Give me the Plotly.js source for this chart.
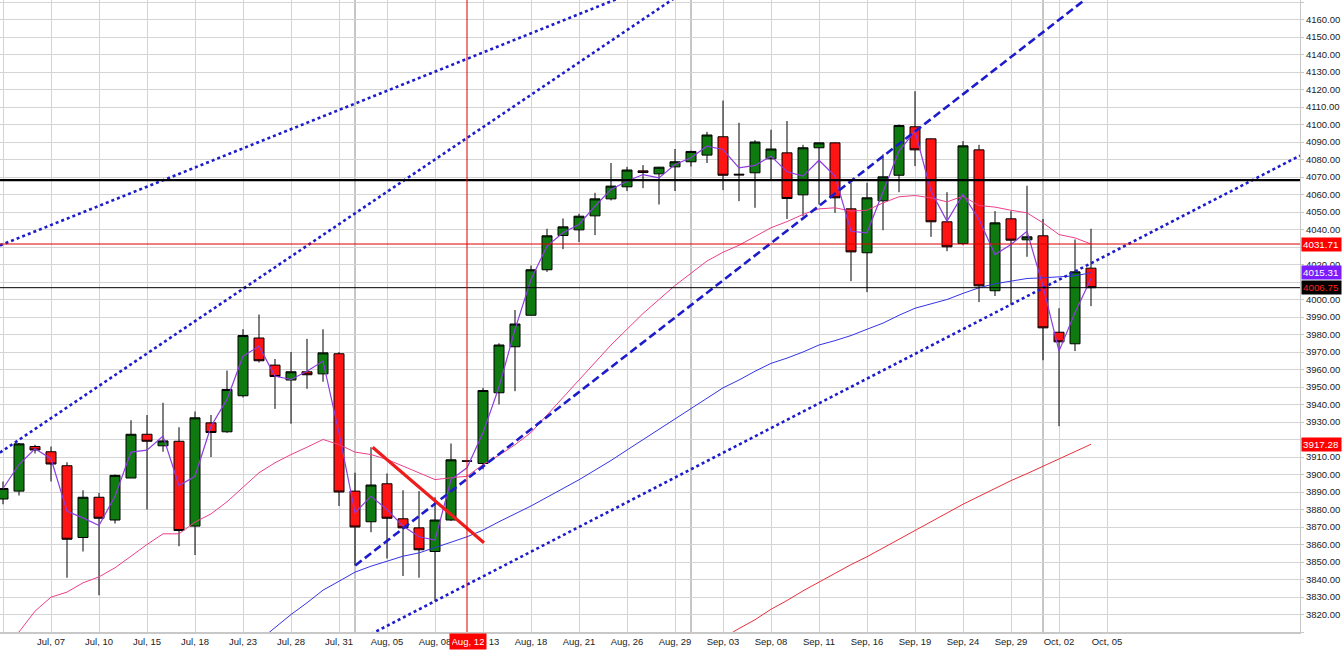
<!DOCTYPE html>
<html><head><meta charset="utf-8">
<script src="https://cdn.plot.ly/plotly-3.0.1.min.js"></script>
<style>html,body{margin:0;padding:0;background:#fff;overflow:hidden}#chart{width:1343px;height:662px}</style>
</head><body><div id="chart"></div>
<script>
// ---- OHLC data (one candle per session, index 0..68) ----
const openP  = [3886,3890.5,3916,3913,3905,3864,3887,3874,3898,3923,3916.4,3919,3870.5,3929.5,3924.4,3945,3978,3962.5,3954,3958.7,3957.5,3969,3890.5,3873,3894.7,3874.7,3869.5,3856,3874,3907.8,3906.3,3946.7,3973,3991,4017,4036.6,4039.8,4047.8,4057.5,4064.4,4073.5,4071.8,4075.8,4078.7,4082.5,4093,4071.6,4072.4,4080.4,4083.8,4059.8,4086.7,4089.5,4051.8,4026.7,4056.4,4071,4098.7,4091.8,4044.4,4032,4085.5,4005,4046.1,4034.1,4036.4,3981.3,3974.7,4017.9];
const highP  = [3896,3918,3917,3916,3907,3891,3889.5,3900,3931,3934,3941,3927,3936,3934,3959.4,3983,3991.4,3966,3970,3977.5,3983,3970,3901,3915.6,3900.6,3891,3890.5,3887,3917.7,3908.3,3949.5,3975,3994,4019.4,4040.4,4046.3,4049,4061,4078,4075.8,4076.8,4075.8,4086,4085,4095.8,4113.7,4101,4091,4097,4102,4088.4,4089.7,4089.7,4066.7,4066.7,4083,4100,4119,4092,4061.3,4090.5,4088.4,4050.5,4050.5,4065,4046,3995,4034.3,4040.4];
const lowP   = [3883,3888,3912,3896,3841,3856,3831,3872,3898,3880,3913,3859,3854,3910,3923.8,3944,3964,3937.5,3929,3949,3953,3882,3848,3867,3852,3842,3841,3827.6,3873.5,3907.2,3903,3940,3947.6,3991,4015.8,4028.8,4032.8,4036.8,4056.6,4062,4063.6,4054.3,4062,4076,4078,4062.5,4056.2,4052.4,4068.6,4046,4047.6,4054.3,4049.5,4010.5,4004.2,4039.6,4061.3,4076.2,4035.8,4027.6,4031,3998.5,4002,3997,4024.4,3965.3,3927.6,3970.5,3996.2];
const closeP = [3892,3917.5,3914,3906,3863,3887,3875,3899.5,3923,3919,3919.2,3868,3932.4,3924,3948.6,3979.4,3965,3956,3958.7,3957,3969.5,3890,3870,3894,3875,3869.5,3857,3874,3908.4,3907.6,3948,3974,3986,4017,4036.4,4041.5,4047.6,4057.5,4064.8,4074,4072.6,4075.6,4078.7,4084.6,4094,4071,4071.2,4090,4086,4057.7,4086.7,4089.5,4058.1,4027.2,4058.1,4070.1,4099.4,4085.5,4044.4,4030.1,4087.8,4007.8,4043.8,4033.9,4035.8,3983.8,3975.8,4015.8,4006.75];

// ---- indicator lines ----
const fastLine = [3892,3905.7,3914.7,3909,3879,3875.2,3870.9,3887.6,3912.8,3913.9,3921.9,3893.7,3899,3927.6,3942.9,3967.6,3973.3,3956.2,3954.3,3959,3964.8,3923.8,3878.1,3887.6,3880,3870.5,3864.4,3862.5,3897.1,3903.8,3923.8,3950,3982.9,4011.4,4030.5,4038.1,4042.9,4053.3,4062.9,4067.6,4071.4,4069.5,4077.1,4081,4087.6,4085.7,4075.2,4076.6,4081.9,4073,4070.5,4079.6,4070.5,4039,4038.1,4061,4084.8,4096.2,4061.9,4044.8,4060,4045.7,4025.7,4031.4,4039,4007.6,3970.5,3992.4,4012];
const maPink = [3803,3810,3821.9,3829.9,3832.8,3838.1,3841.5,3846.7,3853.3,3860,3866.1,3866.1,3872.8,3877.5,3884.4,3892.6,3901,3906.7,3911.4,3915.6,3920,3917.1,3912.8,3911.4,3908.6,3904.8,3901,3897.1,3898.1,3899,3905.7,3911,3917,3924,3934,3944,3954,3964,3974,3983,3992,4000,4008,4015,4022,4027,4031,4036,4041,4044.5,4048.6,4051.8,4052.4,4050.5,4051,4055.2,4058.7,4059.4,4058.1,4055.8,4059,4053.7,4052.8,4051,4049.5,4043.8,4037.1,4035.2,4031.71];
const maBlue = [null,null,null,null,null,null,null,null,null,null,null,null,null,null,null,null,3805,3812.4,3820,3826.7,3833.9,3839,3844.2,3847.6,3850.5,3853.3,3855.2,3858.1,3861.3,3864.4,3868.2,3873,3877.5,3882,3887,3892,3897,3902.5,3908,3914,3920,3926,3932,3938,3944,3949.5,3954,3959,3963.5,3966.5,3970,3974,3976.5,3979.4,3983,3986.5,3991,3995,3997.5,4000,4003.5,4006.7,4009,4010.5,4012,4012.4,4012.8,4013.5,4015.31];
const maRed  = [null,null,null,null,null,null,null,null,null,null,null,null,null,null,null,null,null,null,null,null,null,null,null,null,null,null,null,null,null,null,null,null,null,null,null,null,null,null,null,null,null,null,null,null,null,3806.5,3812,3817,3823,3828,3833.5,3838.5,3843.5,3848.5,3853,3858,3863,3868,3873,3878,3883,3887.5,3892,3896.5,3900.5,3904.7,3908.7,3913,3917.28];

// ---- drawn trend lines (index, price) ----
const chanTopX = [-0.19, 38.5],  chanTopY = [4030.9, 4172.2];
const chanMidX = [-0.19, 42],    chanMidY = [3912.5, 4172.4];
const trendUpX = [22.02, 68],    trendUpY = [3848, 4174];
const chanLowX = [23, 81.06],    chanLowY = [3808.8, 4082.2];
const redDownX = [23.1, 30.06],  redDownY = [3915.6, 3861];

// ---- levels / labels ----
const levelValues = [4068.2, 4031.71, 4006.75];
const monthStarts = [22, 43, 65];
const crossIdx = 29, crossLabel = 'Aug, 12';
const tagValues = [4031.71, 4015.31, 4006.75, 3917.28];
const tagBg = ['#ff0000', '#7a1cff', '#000000', '#ff0000'];
const tagFg = ['#ffffff', '#ffffff', '#ff2020', '#ffffff'];
const hiddenTicks = [3810, 3920, 4010, 4030, 4170];

const tickIdx  = [0,3,6,9,12,15,18,21,24,27,30,33,36,39,42,45,48,51,54,57,60,63,66,69];
const tickText = ['','Jul, 07','Jul, 10','Jul, 15','Jul, 18','Jul, 23','Jul, 28','Jul, 31','Aug, 05','Aug, 08','Aug, 13','Aug, 18','Aug, 21','Aug, 26','Aug, 29','Sep, 03','Sep, 08','Sep, 11','Sep, 16','Sep, 19','Sep, 24','Sep, 29','Oct, 02','Oct, 05'];
const yTickVals = [3810,3820,3830,3840,3850,3860,3870,3880,3890,3900,3910,3920,3930,3940,3950,3960,3970,3980,3990,4000,4010,4020,4030,4040,4050,4060,4070,4080,4090,4100,4110,4120,4130,4140,4150,4160,4170];

const idx = openP.map((_, i) => i);
const FONT = 'Liberation Sans, Arial, sans-serif';

const traces = [
  {type:'candlestick', x: idx, open: openP, high: highP, low: lowP, close: closeP,
   increasing:{line:{color:'#000000', width:1}, fillcolor:'#0f7a0f'},
   decreasing:{line:{color:'#000000', width:1}, fillcolor:'#ff1414'},
   whiskerwidth:0, hoverinfo:'skip', showlegend:false},
  {type:'scatter', mode:'lines', x: idx, y: maRed,  line:{color:'#e8303c', width:1}, hoverinfo:'skip', showlegend:false},
  {type:'scatter', mode:'lines', x: idx, y: maBlue, line:{color:'#3434e6', width:1}, hoverinfo:'skip', showlegend:false},
  {type:'scatter', mode:'lines', x: idx, y: maPink, line:{color:'#ec3f8a', width:1}, hoverinfo:'skip', showlegend:false},
  {type:'scatter', mode:'lines', x: idx, y: fastLine, line:{color:'#8c3ce0', width:1.2}, hoverinfo:'skip', showlegend:false},
  {type:'scatter', mode:'lines', x: chanTopX, y: chanTopY, line:{color:'#1c1ccc', width:2.6, dash:'dot'}, hoverinfo:'skip', showlegend:false},
  {type:'scatter', mode:'lines', x: chanMidX, y: chanMidY, line:{color:'#1c1ccc', width:2.6, dash:'dot'}, hoverinfo:'skip', showlegend:false},
  {type:'scatter', mode:'lines', x: chanLowX, y: chanLowY, line:{color:'#1c1ccc', width:2.6, dash:'dot'}, hoverinfo:'skip', showlegend:false},
  {type:'scatter', mode:'lines', x: trendUpX, y: trendUpY, line:{color:'#1c1ccc', width:2.6, dash:'8px,4px'}, hoverinfo:'skip', showlegend:false},
  {type:'scatter', mode:'lines', x: redDownX, y: redDownY, line:{color:'#ee1c1c', width:3.2}, hoverinfo:'skip', showlegend:false}
];

const shapes = [];
monthStarts.forEach(m => shapes.push({type:'line', xref:'x', yref:'paper', x0:m, x1:m, y0:0, y1:1, layer:'below', line:{color:'#c6c6c6', width:2}}));
shapes.push({type:'line', xref:'paper', yref:'y', x0:0, x1:1, y0:levelValues[0], y1:levelValues[0], layer:'above', line:{color:'#000000', width:2.4}});
shapes.push({type:'line', xref:'paper', yref:'y', x0:0, x1:1, y0:levelValues[1], y1:levelValues[1], layer:'above', line:{color:'#e00000', width:1}});
shapes.push({type:'line', xref:'paper', yref:'y', x0:0, x1:1, y0:levelValues[2], y1:levelValues[2], layer:'above', line:{color:'#000000', width:1}});
shapes.push({type:'line', xref:'x', yref:'paper', x0:crossIdx, x1:crossIdx, y0:0, y1:1, layer:'above', line:{color:'#e00000', width:1}});

const annotations = tagValues.map((v, i) => ({
  xref:'paper', yref:'y', x:1, y:v, xanchor:'left', yanchor:'middle', xshift:1,
  text: v.toFixed(2), showarrow:false, bgcolor: tagBg[i], borderpad:1, width:37, align:'left',
  font:{family:FONT, size:9.8, color: tagFg[i]}
}));
annotations.push({xref:'x', yref:'paper', x:crossIdx, y:0, xanchor:'center', yanchor:'top', yshift:-1, xshift:1,
  text: crossLabel, showarrow:false, bgcolor:'#ff0000', borderpad:2, width:32,
  font:{family:FONT, size:9.6, color:'#ffffff'}});

const layout = {
  width:1343, height:662,
  margin:{l:0, r:43, t:0, b:30, pad:0},
  paper_bgcolor:'#ffffff', plot_bgcolor:'#ffffff',
  showlegend:false, hovermode:false, dragmode:false,
  boxgap:0.375, boxgroupgap:0,
  xaxis:{type:'linear', range:[-0.1875, 81.0625], tickmode:'array', tickvals:tickIdx, ticktext:tickText,
    showgrid:true, gridcolor:'#d4d4d4', gridwidth:1, zeroline:false,
    showline:true, linecolor:'#c8c8c8', linewidth:2, ticks:'',
    tickfont:{family:FONT, size:9.5, color:'#222222'}, rangeslider:{visible:false}, fixedrange:true},
  yaxis:{side:'right', range:[3810, 4171.14], tickmode:'array', tickvals:yTickVals,
    ticktext: yTickVals.map(v => hiddenTicks.includes(v) ? '' : v.toFixed(2)),
    showgrid:true, gridcolor:'#d4d4d4', gridwidth:1, zeroline:false,
    showline:true, linecolor:'#c8c8c8', linewidth:1, ticks:'outside', ticklen:3, tickcolor:'#c8c8c8',
    tickfont:{family:FONT, size:9.5, color:'#222222'}, fixedrange:true},
  shapes: shapes,
  annotations: annotations
};

Plotly.newPlot('chart', traces, layout, {displayModeBar:false, staticPlot:true});
</script>
</body></html>
